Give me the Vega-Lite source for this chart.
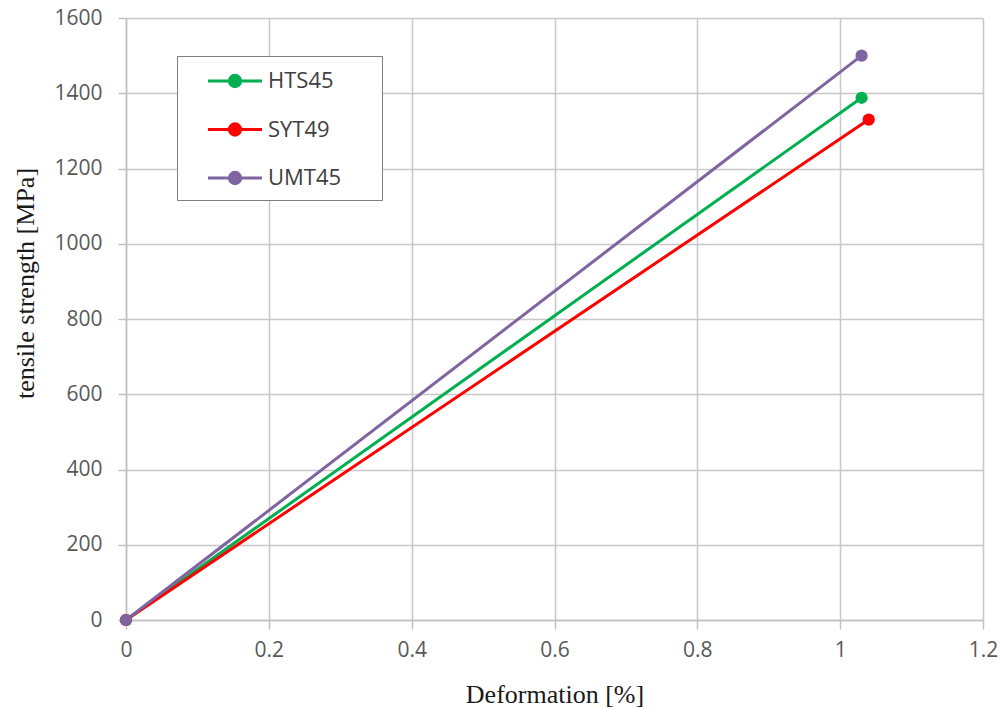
{
  "$schema": "https://vega.github.io/schema/vega-lite/v6.json",
  "autosize": "none",
  "width": 857,
  "height": 602,
  "padding": {"left": 126, "top": 18, "right": 20, "bottom": 90},
  "background": "white",
  "data": {
    "values": [
      {"series": "HTS45", "x": 0, "y": 0},
      {"series": "HTS45", "x": 1.03, "y": 1388},
      {"series": "SYT49", "x": 0, "y": 0},
      {"series": "SYT49", "x": 1.04, "y": 1330},
      {"series": "UMT45", "x": 0, "y": 0},
      {"series": "UMT45", "x": 1.03, "y": 1500}
    ]
  },
  "mark": {"type": "line", "strokeWidth": 3, "point": {"filled": true, "size": 150}},
  "encoding": {
    "x": {
      "field": "x", "type": "quantitative",
      "scale": {"domain": [0, 1.2], "nice": false, "zero": false},
      "axis": {
        "values": [0, 0.2, 0.4, 0.6, 0.8, 1, 1.2],
        "format": "~g",
        "title": "Deformation [%]",
        "titleFont": "Liberation Serif", "titleFontSize": 26, "titleFontWeight": "normal",
        "titleColor": "#1a1a1a", "titleY": 82, "titleBaseline": "alphabetic",
        "labelFont": "Open Sans", "labelFontSize": 21, "labelColor": "#595959",
        "labelPadding": 10, "tickSize": 9, "tickColor": "#c0c0c0", "tickWidth": 1.5,
        "domainColor": "#c0c0c0", "domainWidth": 1.5,
        "gridColor": "#c8c8c8", "gridWidth": 1.5, "labelFlush": false
      }
    },
    "y": {
      "field": "y", "type": "quantitative",
      "scale": {"domain": [0, 1600], "nice": false},
      "axis": {
        "values": [0, 200, 400, 600, 800, 1000, 1200, 1400, 1600],
        "format": "d",
        "title": "tensile strength [MPa]",
        "titleFont": "Liberation Serif", "titleFontSize": 26, "titleFontWeight": "normal",
        "titleColor": "#1a1a1a", "titleX": -101, "titleBaseline": "middle", "titleY": 265,
        "labelFont": "Open Sans", "labelFontSize": 21, "labelColor": "#595959",
        "labelPadding": 16, "tickSize": 8, "tickColor": "#c0c0c0", "tickWidth": 1.5,
        "domainColor": "#c0c0c0", "domainWidth": 1.5,
        "gridColor": "#c8c8c8", "gridWidth": 1.5
      }
    },
    "color": {
      "field": "series", "type": "nominal",
      "scale": {"domain": ["HTS45", "SYT49", "UMT45"], "range": ["#00b050", "#ff0000", "#8064a2"]},
      "legend": {
        "title": "\u00a0",
        "titleOrient": "right", "titlePadding": 31, "titleFontSize": 4,
        "orient": "none", "legendX": 51, "legendY": 38,
        "symbolType": "M-2,0L2,0M-0.42,0A0.42,0.42 0 1,1 0.42,0A0.42,0.42 0 1,1 -0.42,0Z",
        "symbolSize": 729, "symbolStrokeWidth": 3, "symbolOffset": 33,
        "labelFont": "Open Sans", "labelFontSize": 22, "labelColor": "#404040",
        "labelOffset": 18, "rowPadding": 21.5,
        "padding": 10, "strokeColor": "#7f7f7f", "fillColor": "white"
      }
    }
  },
  "config": {"view": {"stroke": null}}
}
